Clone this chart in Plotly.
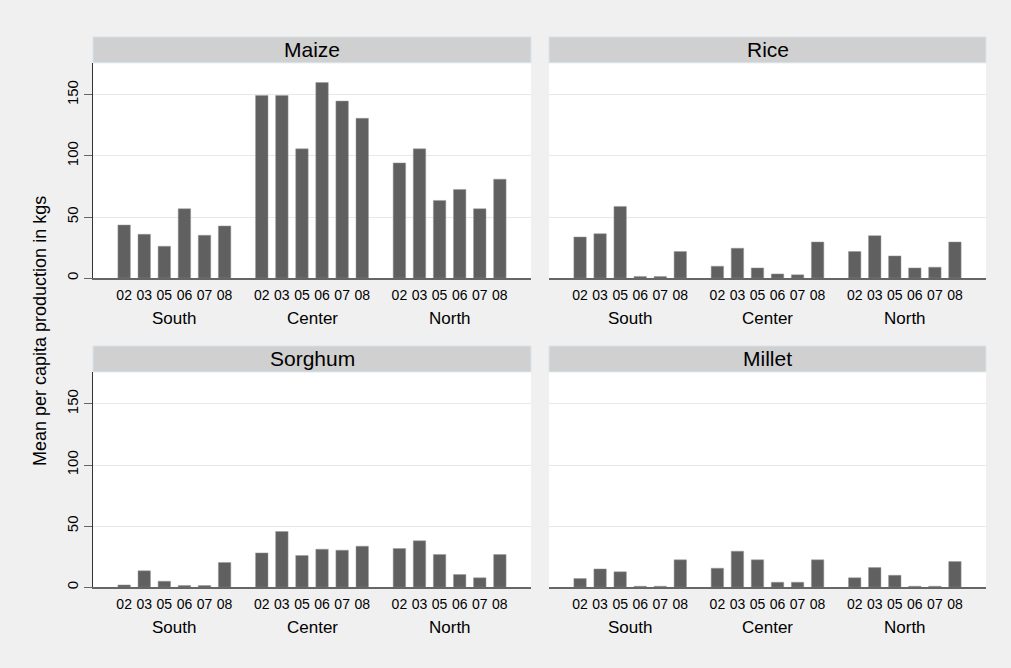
import plotly.graph_objects as go

years = ["02", "03", "05", "06", "07", "08"]
regions = ["South", "Center", "North"]

# values ordered South 02..08, Center 02..08, North 02..08
maize = [43.5, 35.9, 26.1, 56.8, 35.1, 42.7,
         149.5, 149.5, 105.8, 160.1, 144.9, 130.8,
         94.3, 105.8, 63.6, 72.6, 56.8, 81.0]
rice = [33.7, 36.4, 58.7, 1.4, 1.4, 21.8,
        9.8, 24.5, 8.4, 3.5, 2.7, 29.6,
        21.8, 34.8, 18.2, 8.4, 9.0, 29.6]
sorghum = [1.9, 13.4, 4.9, 1.4, 1.4, 20.2,
           28.1, 45.6, 26.0, 31.1, 30.3, 33.6,
           31.7, 38.0, 26.8, 10.4, 7.7, 26.8]
millet = [7.1, 15.0, 12.6, 0.8, 0.8, 22.4,
          15.6, 29.5, 22.4, 4.1, 4.1, 22.4,
          7.7, 16.1, 9.8, 0.8, 0.8, 21.0]

crops = ["Maize", "Rice", "Sorghum", "Millet"]
series = [maize, rice, sorghum, millet]

W, H = 1011, 668
GROUP_STEP = 6.85
FONT = "Liberation Sans, Arial, sans-serif"


def fx(p):
    return p / W


def fy(p):
    return 1 - p / H


xpos = []
labels = []
for g in range(len(regions)):
    for i, yr in enumerate(years):
        xpos.append(g * GROUP_STEP + i)
        labels.append(yr)

# pixel boxes: (left, right) and (top, bottom, strip top)
cols = [(93, 531), (549, 986)]
rows = [(63, 279, 37), (373, 589, 347)]

fig = go.Figure()
layout = dict(
    width=W, height=H,
    margin=dict(l=0, r=0, t=0, b=0),
    paper_bgcolor="#f0f0f0",
    plot_bgcolor="white",
    showlegend=False,
    font=dict(family=FONT, color="black"),
)
shapes = []
annotations = []

for k, (name, vals) in enumerate(zip(crops, series)):
    r, c = divmod(k, 2)
    n = k + 1
    xa = "x" if n == 1 else "x%d" % n
    ya = "y" if n == 1 else "y%d" % n
    left, right = cols[c]
    top, bottom, stop = rows[r]
    fig.add_trace(go.Bar(
        x=xpos, y=vals, xaxis=xa, yaxis=ya, width=0.62,
        marker=dict(color="#606060", line=dict(color="#9a9a9a", width=0.5)),
        hoverinfo="skip",
    ))
    layout["xaxis" if n == 1 else "xaxis%d" % n] = dict(
        domain=[fx(left), fx(right)], anchor=ya,
        range=[-1.55, 20.25], showgrid=False, zeroline=False,
        tickvals=xpos, ticktext=labels, tickangle=0,
        ticks="outside", ticklen=3, tickcolor="rgba(0,0,0,0)",
        tickfont=dict(size=14), showline=True, linecolor="#666666", linewidth=1.5,
    )
    layout["yaxis" if n == 1 else "yaxis%d" % n] = dict(
        domain=[fy(bottom), fy(top)], anchor=xa,
        range=[0, 176.2], tickvals=[0, 50, 100, 150],
        showgrid=True, gridcolor="#e8e8e8", gridwidth=1, zeroline=False,
        showticklabels=(c == 0), tickangle=-90, tickfont=dict(size=15),
        ticks="outside" if c == 0 else "", ticklen=8, tickcolor="#666666",
        showline=(c == 0), linecolor="#333333", linewidth=1,
    )
    shapes.append(dict(
        type="rect", xref="paper", yref="paper",
        x0=fx(left), x1=fx(right), y0=fy(top), y1=fy(stop),
        fillcolor="#d0d0d0", line=dict(color="#d8e4ec", width=1), layer="below",
    ))
    annotations.append(dict(
        text=name, xref="paper", yref="paper", x=fx((left + right) / 2),
        y=fy((top + stop) / 2), showarrow=False, font=dict(size=21),
        xanchor="center", yanchor="middle",
    ))
    for g, reg in enumerate(regions):
        annotations.append(dict(
            text=reg, xref=xa, yref="paper", x=g * GROUP_STEP + 2.5,
            y=fy(bottom + 40), showarrow=False, font=dict(size=17),
            xanchor="center", yanchor="middle",
        ))

annotations.append(dict(
    text="Mean per capita production in kgs", xref="paper", yref="paper",
    x=fx(40), y=fy(332), textangle=-90, showarrow=False, font=dict(size=18),
    xanchor="center", yanchor="middle",
))

layout["shapes"] = shapes
layout["annotations"] = annotations
fig.update_layout(**layout)
fig.write_html("out.html", config={"displayModeBar": False},
               post_script="document.body.style.margin='0';document.body.style.overflow='hidden';")
